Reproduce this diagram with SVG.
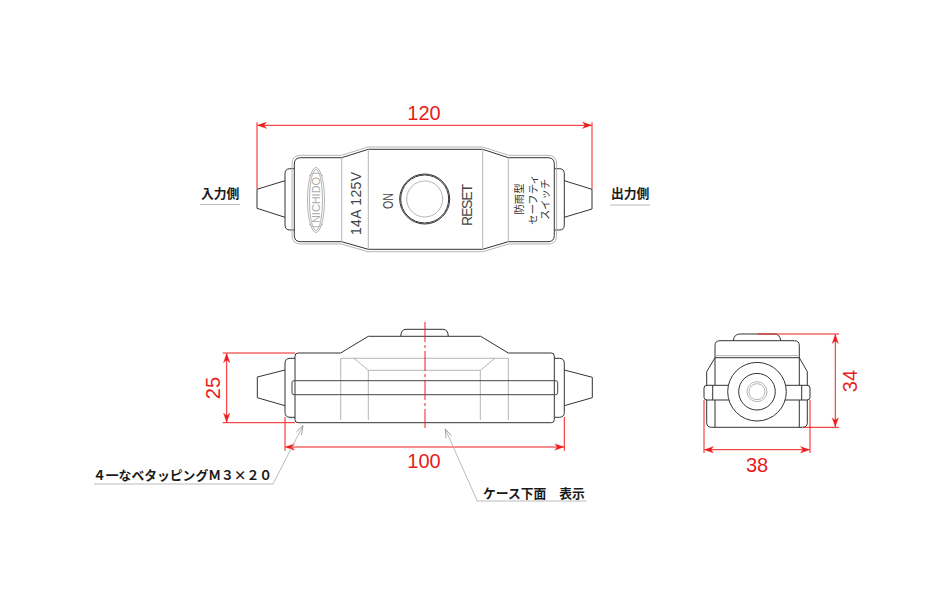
<svg xmlns="http://www.w3.org/2000/svg" width="950" height="600" viewBox="0 0 950 600">
<style>
.k{fill:none;stroke:#333;stroke-width:1}
.kw{fill:#fff;stroke:#333;stroke-width:1}
.g{fill:none;stroke:#b5b5b5;stroke-width:1}
.r{fill:none;stroke:#f01c1c;stroke-width:1}
.a{marker-start:url(#ra);marker-end:url(#ra)}
.c{fill:none;stroke:#aaa;stroke-width:.8}
.d{font-family:"Liberation Sans",Arial,sans-serif;font-size:20px;fill:#e81c1c;text-anchor:middle}
.j{font-family:"Noto Sans CJK JP","Liberation Sans",sans-serif;font-weight:700;font-size:12.8px;fill:#1a1a1a}
.m{font-family:"Liberation Sans",Arial,sans-serif;font-size:14px;fill:#444;text-anchor:middle}
.s{font-family:"Noto Sans CJK JP","Liberation Sans",sans-serif;font-size:10.3px;fill:#333;text-anchor:middle}
</style>
<defs>
<marker id="ra" markerUnits="userSpaceOnUse" markerWidth="14" markerHeight="10" refX="10" refY="5" orient="auto-start-reverse"><path d="M1,1.8 L10,5 L1,8.2 L3.5,5 Z" fill="#f01c1c" stroke="#f01c1c" stroke-width=".3"/></marker>
<marker id="ga" markerUnits="userSpaceOnUse" markerWidth="14" markerHeight="10" refX="10" refY="5" orient="auto-start-reverse"><path d="M1,2 L10,5 L1,8" fill="none" stroke="#999" stroke-width=".8"/></marker>
</defs>

<g id="top-view">
<path class="k" d="M285,180.7 L257,189.3 V208.3 L285,217.3"/>
<path class="k" d="M564.3,180.7 L592,189.3 V209 L564.3,217.3"/>
<path class="kw" d="M294.5,168.7 H290 Q285,168.7 285,173.7 V225 Q285,230 290,230 H294.5"/>
<path class="kw" d="M554.3,168.7 H559.3 Q564.3,168.7 564.3,173.7 V225 Q564.3,230 559.3,230 H554.3"/>
<path class="g" d="M292,164 Q292,155.3 300.7,155.3 H341.4 L368,147 H483 L508.6,155.3 H548 Q556.6,155.3 556.6,164 V235 Q556.6,244 548,244 H508.6 L483,251.7 H368 L341.4,244 H300.7 Q292,244 292,235 Z"/>
<path class="kw" d="M294.3,164 Q294.3,157.7 300.7,157.7 H341.7 L368.3,149.3 H482.7 L508.3,157.7 H548 Q554.3,157.7 554.3,164 V235.4 Q554.3,241.7 548,241.7 H508.3 L482.7,249.3 H368.3 L341.7,241.7 H300.7 Q294.3,241.7 294.3,235.4 Z"/>
<path class="g" d="M341.7,157.7 V241.7 M368.3,149.3 V249.3 M482.7,149.3 V249.3 M508.3,157.7 V241.7"/>
<circle class="k" cx="424.7" cy="199" r="25" stroke-width="1.4"/>
<circle class="k" cx="424.7" cy="199" r="24"/>
<circle class="g" cx="424.7" cy="199" r="18"/>
<g id="logo">
<ellipse class="g" cx="316" cy="200" rx="8.5" ry="32.5" stroke="#ccc"/>
<ellipse class="g" cx="316" cy="200" rx="6.5" ry="30.5"/>
<path class="g" d="M309,176 Q316,170 323,176 M309,224 Q316,230 323,224"/>
<text transform="translate(319.5,200) rotate(-90)" font-family="Liberation Sans, sans-serif" font-size="10" fill="#aaa" text-anchor="middle" textLength="46" lengthAdjust="spacingAndGlyphs">NICHIDO</text>
</g>
<text class="m" transform="translate(360.5,203.5) rotate(-90)" textLength="63" lengthAdjust="spacing">14A 125V</text>
<text class="m" transform="translate(393,201) rotate(-90)" textLength="16" lengthAdjust="spacingAndGlyphs">ON</text>
<text class="m" transform="translate(471.5,205) rotate(-90)" textLength="42" lengthAdjust="spacing">RESET</text>
<text class="s" transform="translate(523,199) rotate(-90)">防雨型</text>
<text class="s" transform="translate(537,199.5) rotate(-90)">セーフティ</text>
<text class="s" transform="translate(549,199.5) rotate(-90)">スイッチ</text>
</g>

<g id="side-view">
<path class="k" d="M285,370 L257.3,377 V397.7 L285,405.7"/>
<path class="k" d="M564.3,370 L592.3,377.3 V397.7 L564.3,405.7"/>
<path class="kw" d="M400.7,336.3 Q401,329.3 406,329.3 H443 Q448,329.3 448.3,336.3"/>
<path class="kw" d="M295,358.3 H290 Q285,358.3 285,363.3 V412.3 Q285,417.3 290,417.3 H295"/>
<path class="kw" d="M554.3,358.3 H559.3 Q564.3,358.3 564.3,363.3 V412.3 Q564.3,417.3 559.3,417.3 H554.3"/>
<path class="kw" d="M295,356 Q295,353 298,353 H340.7 L368.3,336.3 H480.7 L508.3,353 H551.3 Q554.3,353 554.3,356 V419.7 Q554.3,422.7 551.3,422.7 H298 Q295,422.7 295,419.7 Z"/>
<path class="g" d="M340.7,420 V358.3 H508.3 V420 M368.3,420 V370.3 H480.3 V420 M354,358.3 L368.3,370.3 M495,358.3 L480.3,370.3"/>
<rect x="292" y="380.7" width="265.7" height="14" rx="2" fill="none" stroke="#444" stroke-width="1"/>
</g>

<g id="front-view">
<path class="kw" d="M733.3,340.7 Q734,334 740,334 H774 Q780,334 780.7,340.7"/>
<path class="k" d="M715,357.7 L706.7,371.7 V385.3 M799.3,357.7 L807.3,371.7 V385.3"/>
<path class="k" d="M706.7,400 V423.3 Q707,427.3 711.7,427.3 H802.3 Q807,427.3 807.3,423.3 V400"/>
<path class="k" d="M715,427.3 V345.7 Q715,340.7 720,340.7 H794.3 Q799.3,340.7 799.3,345.7 V427.3"/>
<path class="k" d="M715,357.7 H799.3"/>
<path class="g" d="M716,355.6 H798.3"/>
<path class="kw" d="M730,385.3 H707 Q704,385.3 704,388 V397.3 Q704,400 707,400 H730 M784,385.3 H807 Q810,385.3 810,388 V397.3 Q810,400 807,400 H784"/>
<path class="k" d="M712.7,385.3 V400 M801.7,385.3 V400"/>
<circle class="kw" cx="757" cy="391.7" r="29.3"/>
<circle class="k" cx="757" cy="391.7" r="18.3"/>
<circle class="g" cx="757" cy="391.7" r="10"/>
<circle class="g" cx="757" cy="391.7" r="8"/>
</g>

<g id="connectors">
<path class="r" d="M257,122.3 V189 M592,122.3 V189 M222.7,353 H295 M222.7,422.7 H295 M285,417 V450.7 M564.3,417 V450.7 M757.7,334 H839 M803,427.3 H839 M704,400 V453 M810,400 V453"/>
<path class="r a" d="M257.5,125.3 H591.5"/>
<path class="r a" d="M226.7,353.5 V422.2"/>
<path class="r a" d="M285.5,447 H563.8"/>
<path class="r a" d="M835.3,334.5 V426.8"/>
<path class="r a" d="M704.5,449.7 H809.5"/>
<path class="r" stroke-dasharray="20,3,3,3" d="M425,322 V428"/>
<path class="c" marker-end="url(#ga)" d="M94,484 H273 L303,425.5"/>
<path class="c" marker-end="url(#ga)" d="M586.7,501 H477.3 L445.2,428.8"/>
<path class="c" d="M200,204.5 H240 M610,205 H650"/>
</g>

<g id="labels">
<text class="d" x="424" y="120">120</text>
<text class="d" x="424" y="468">100</text>
<text class="d" x="757" y="472">38</text>
<text class="d" transform="translate(220,388) rotate(-90)">25</text>
<text class="d" transform="translate(857,381) rotate(-90)">34</text>
<text class="j" x="201" y="198">入力側</text>
<text class="j" x="611" y="198">出力側</text>
<text class="j" x="93" y="479.5">４一なベタッピングＭ３×２０</text>
<text class="j" x="483" y="497.5">ケース下面　表示</text>
</g>
</svg>
